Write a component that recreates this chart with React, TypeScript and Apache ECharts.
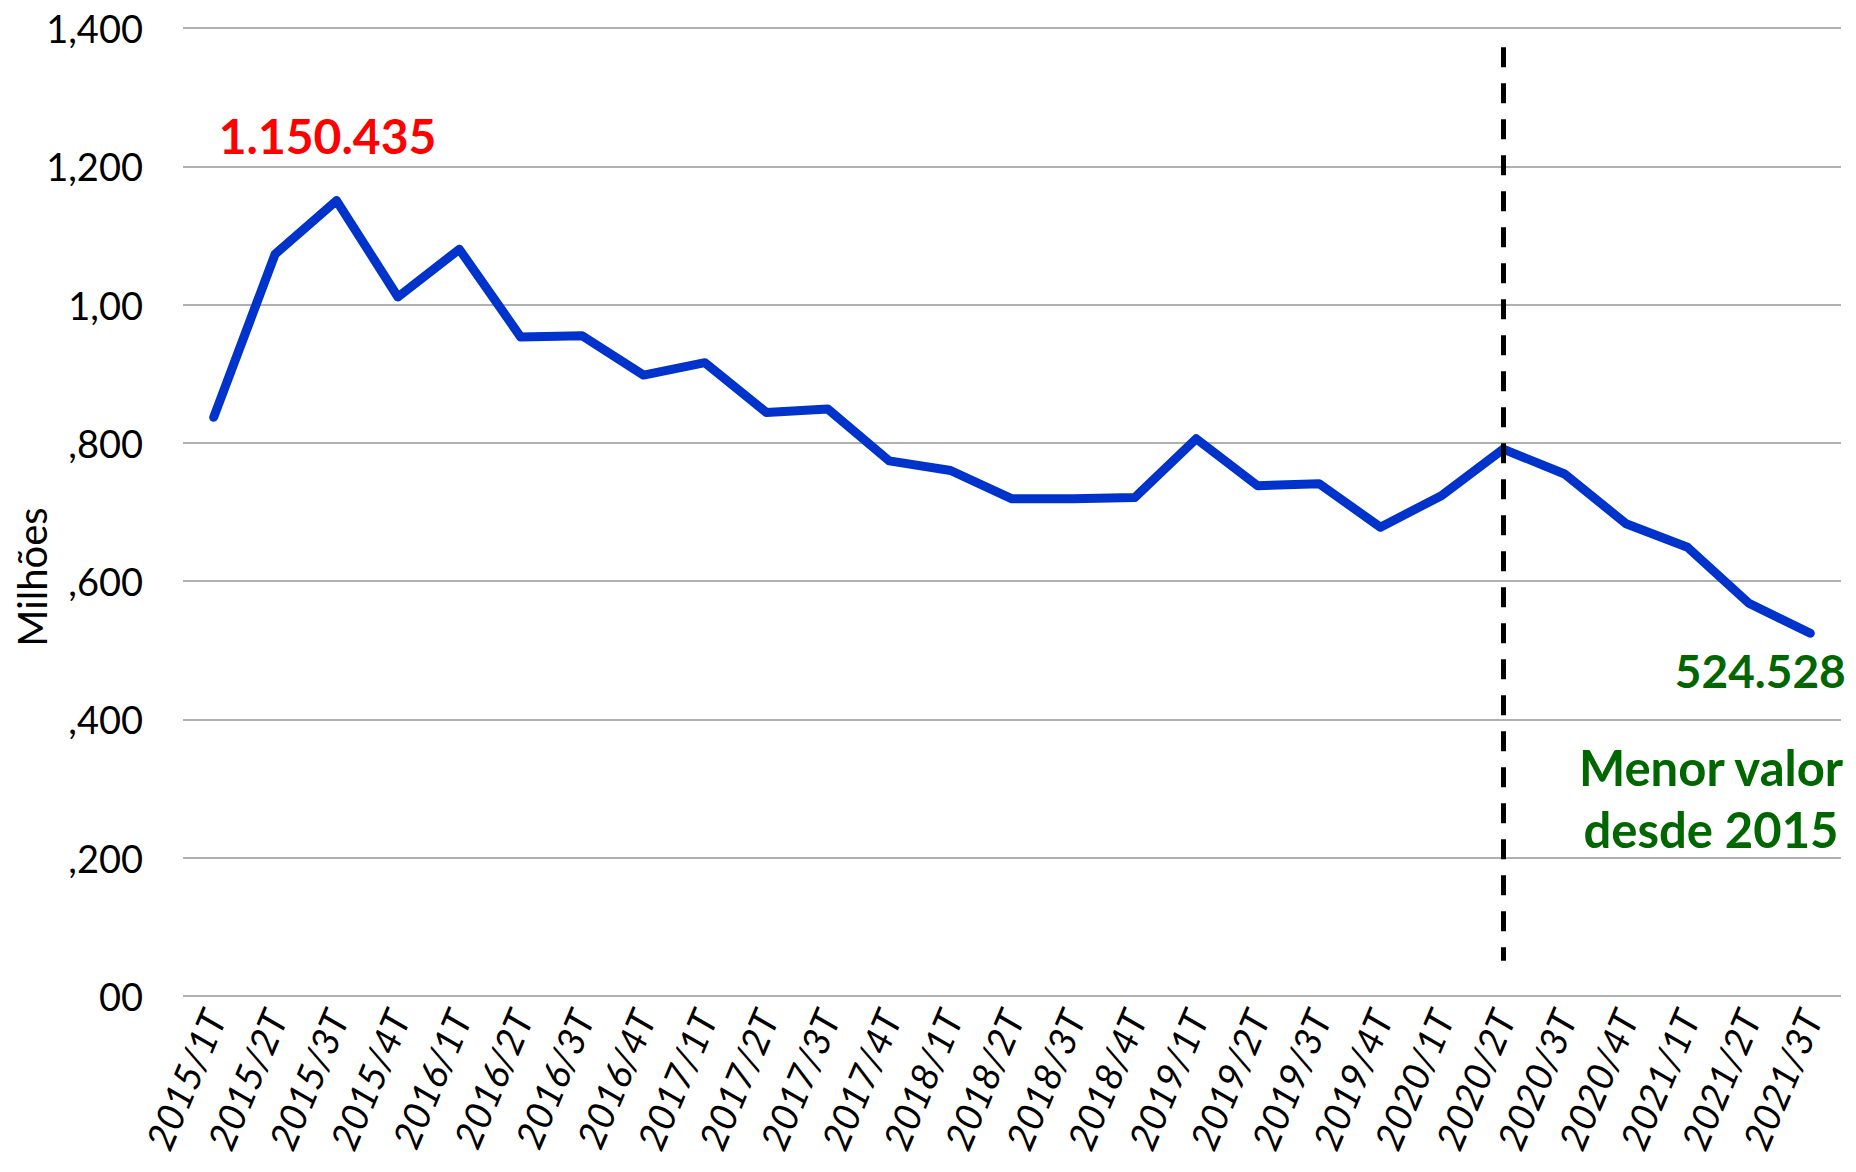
import React, { useEffect, useRef } from "react";
import * as echarts from "echarts";

const categories = [
  "2015/1T", "2015/2T", "2015/3T", "2015/4T",
  "2016/1T", "2016/2T", "2016/3T", "2016/4T",
  "2017/1T", "2017/2T", "2017/3T", "2017/4T",
  "2018/1T", "2018/2T", "2018/3T", "2018/4T",
  "2019/1T", "2019/2T", "2019/3T", "2019/4T",
  "2020/1T", "2020/2T", "2020/3T", "2020/4T",
  "2021/1T", "2021/2T", "2021/3T",
];

// thousands
const values = [
  837, 1073, 1150.435, 1011,
  1080, 953, 955, 898,
  916, 844, 849, 774,
  760, 719, 719, 721,
  806, 738, 741, 678,
  724, 791, 755, 683,
  649, 568, 524.528,
];

const yTickLabels = ["00", ",200", ",400", ",600", ",800", "1,00", "1,200", "1,400"];

const peakIndex = 2;
const lowIndex = 26;
const markerCategory = "2020/2T";
const markerRange = [1372, 51];
const noteLines = ["Menor valor", "desde 2015"];
const yAxisTitle = "Milhões";

const FONT = "Lato, 'Open Sans', sans-serif";

function fmtBR(v: number): string {
  const n = Math.round(v * 1000);
  return n.toString().replace(/\B(?=(\d{3})+(?!\d))/g, ".");
}

export default function App() {
  const ref = useRef<HTMLDivElement>(null);

  useEffect(() => {
    document.body.style.margin = "0";
    if (!ref.current) return;
    const chart = echarts.init(ref.current, undefined, { renderer: "svg" });

    const data = values.map((v, i) => {
      if (i === peakIndex) {
        return {
          value: v,
          label: {
            show: true,
            position: "top",
            distance: 41,
            offset: [-9, 0],
            formatter: (p: any) => fmtBR(p.value),
            color: "#FF0000",
            fontSize: 48,
            fontWeight: "bold",
            fontFamily: FONT,
          },
        };
      }
      if (i === lowIndex) {
        return {
          value: v,
          label: {
            show: true,
            position: "bottom",
            distance: 14,
            offset: [-50, 0],
            formatter: (p: any) => fmtBR(p.value),
            color: "#006600",
            fontSize: 46,
            fontWeight: "bold",
            fontFamily: FONT,
          },
        };
      }
      return v;
    });

    chart.setOption({
      animation: false,
      backgroundColor: "#ffffff",
      grid: {
        left: 183,
        right: 15,
        top: 28,
        bottom: 176,
        containLabel: false,
        outerBoundsMode: "none",
      },
      xAxis: {
        type: "category",
        data: categories,
        boundaryGap: true,
        axisTick: { show: false },
        axisLine: { show: false },
        axisLabel: {
          interval: 0,
          rotate: 67,
          margin: 16,
          fontSize: 38,
          color: "#000",
          fontFamily: FONT,
          fontStyle: "italic",
        },
      },
      yAxis: {
        type: "value",
        min: 0,
        max: 1400,
        interval: 200,
        axisLine: { show: false },
        axisTick: { show: false },
        axisLabel: {
          margin: 40,
          fontSize: 38,
          color: "#000",
          fontFamily: FONT,
          formatter: (v: number) => yTickLabels[Math.round(v / 200)] ?? "",
        },
        splitLine: { lineStyle: { color: "#B0B0B0", width: 2 } },
      },
      series: [
        {
          type: "line",
          data,
          symbol: "circle",
          symbolSize: 1,
          itemStyle: { color: "#0033CC" },
          lineStyle: { color: "#0033CC", width: 9, cap: "round", join: "round" },
          emphasis: { disabled: true },
          markLine: {
            silent: true,
            symbol: ["none", "none"],
            label: { show: false },
            lineStyle: { color: "#000", width: 5, type: [20, 16] },
            data: [
              [
                { coord: [markerCategory, markerRange[0]] },
                { coord: [markerCategory, markerRange[1]] },
              ],
            ],
          },
        },
      ],
      graphic: [
        ...noteLines.map((t, i) => ({
          type: "text",
          x: 1711,
          y: 767 + i * 62,
          style: {
            text: t,
            fill: "#006600",
            fontSize: 49,
            fontWeight: "bold",
            fontFamily: FONT,
            align: "center",
            verticalAlign: "middle",
          },
        })),
        {
          type: "text",
          x: 32,
          y: 577,
          rotation: Math.PI / 2,
          style: {
            text: yAxisTitle,
            fill: "#000",
            fontSize: 40,
            fontFamily: FONT,
            align: "center",
            verticalAlign: "middle",
          },
        },
      ],
    });

    return () => chart.dispose();
  }, []);

  return <div ref={ref} style={{ width: 1856, height: 1172 }} />;
}
